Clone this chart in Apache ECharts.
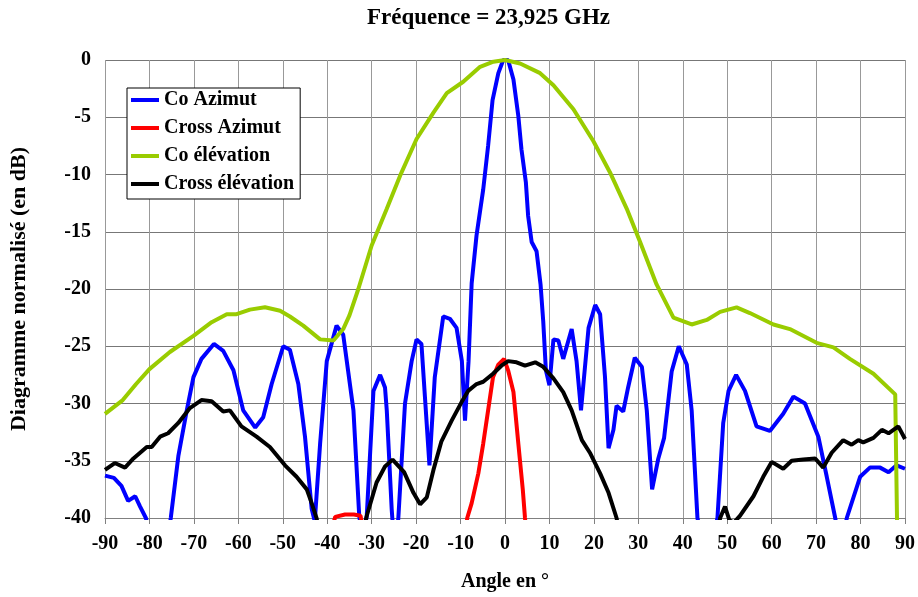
<!DOCTYPE html>
<html>
<head>
<meta charset="utf-8">
<script src="https://cdn.jsdelivr.net/npm/echarts@6/dist/echarts.min.js"></script>
<style>
  html, body { margin: 0; padding: 0; background: #fff; }
  #chart { width: 918px; height: 597px; }
</style>
</head>
<body>
<div id="chart"></div>
<script>
// Diagramme de rayonnement normalisé, 23,925 GHz
const xTicks = [-90, -80, -70, -60, -50, -40, -30, -20, -10, 0, 10, 20, 30, 40, 50, 60, 70, 80, 90]
const yTicks = [0, -5, -10, -15, -20, -25, -30, -35, -40]

// Co Azimut (valeurs sous -40 dB = hors cadre)
const coAzAngle = [-90, -88, -86.3, -84.8, -83.2, -82.1, -80.8, -79, -76.5, -75.2, -73.5, -71.6, -70.1, -68.3, -65.5, -63.4, -61.1, -58.9, -56.2, -54.4, -52.5, -49.9, -48.4, -46.5, -45, -43.5, -42.8, -41.6, -40.1, -37.9, -36.4, -34.1, -32.8, -32, -31.1, -29.6, -28.1, -27, -26.6, -25.5, -24.8, -24, -22.5, -21, -19.9, -18.8, -17, -15.8, -13.9, -12.4, -10.9, -9.7, -9, -8.2, -7.5, -6.4, -4.9, -3.8, -2.8, -1.5, -0.4, 0.7, 1.9, 3, 3.7, 4.7, 5.2, 6, 7.1, 8, 8.6, 9.2, 10, 10.9, 12, 13.1, 15, 16.1, 17.1, 18.8, 20.3, 21.4, 22.5, 23.3, 24.4, 25.1, 26.6, 27.7, 29.2, 30.8, 31.9, 33.1, 34.5, 35.8, 37.5, 39.1, 40.9, 42, 43.3, 45.5, 47.8, 49.1, 50.3, 52, 54, 56.6, 59.6, 62.6, 64.9, 67.5, 70.5, 72.4, 74.3, 75.6, 76.9, 79.9, 82.1, 84.4, 86.3, 88.1, 90]
const coAzDb = [-36.3, -36.5, -37.2, -38.5, -38.1, -39.0, -40, -43, -43, -40, -34.6, -30.6, -27.7, -26.1, -24.8, -25.4, -27.1, -30.6, -32.1, -31.2, -28.3, -25.0, -25.3, -28.3, -32.9, -39.2, -40.3, -33.5, -26.3, -23.2, -24.0, -30.6, -39.8, -42, -39.8, -28.9, -27.5, -28.6, -30.6, -39.2, -43, -40, -30.0, -26.3, -24.4, -24.8, -35.4, -27.7, -22.4, -22.6, -23.4, -26.3, -31.5, -26.3, -19.5, -15.3, -11.3, -7.5, -3.5, -1.15, 0, 0, -1.7, -4.9, -7.8, -10.7, -13.6, -15.9, -16.7, -19.6, -22.8, -27.1, -28.4, -24.4, -24.5, -26.1, -23.5, -26.3, -30.6, -23.4, -21.4, -22.2, -27.7, -33.9, -32.3, -30.2, -30.7, -28.6, -26.0, -26.8, -30.6, -37.5, -34.8, -33.0, -27.2, -25.0, -26.6, -30.6, -40, -44, -40, -31.7, -28.9, -27.5, -28.9, -32.0, -32.4, -30.9, -29.4, -30.0, -32.9, -36.4, -40, -43, -40, -36.4, -35.6, -35.6, -36.0, -35.4, -35.7]

// Cross Azimut
const crossAzAngle = [-39, -38.2, -36, -34, -32.5, -32, -9, -8.5, -7.5, -6, -4.9, -3.8, -2.7, -1.5, -0.2, 0.7, 1.9, 3, 4, 4.5, 5]
const crossAzDb = [-41, -39.9, -39.7, -39.7, -39.8, -41, -42, -40, -38.7, -36.1, -33.5, -30.6, -27.7, -26.6, -26.1, -27.1, -29.0, -33.5, -37.5, -40, -42]

// Co élévation
const coElAngle = [-90, -86, -83, -80, -75.4, -70.1, -66, -62.6, -60.4, -57.4, -54, -50.6, -48.4, -45.4, -41.6, -38.6, -36.4, -35, -33, -30, -26.6, -23.6, -19.9, -16.1, -13.1, -9.4, -5.6, -2.6, 0, 3.4, 7.9, 10.9, 15.4, 19.9, 23.6, 27.4, 30.4, 34.1, 37.9, 42, 45.4, 48.4, 52.1, 55.1, 60.4, 64.1, 70.1, 73.9, 77.6, 82.9, 87.8, 88.2, 88.4]
const coElDb = [-30.9, -29.7, -28.3, -27.0, -25.5, -24.1, -22.9, -22.2, -22.2, -21.8, -21.6, -21.9, -22.4, -23.2, -24.4, -24.5, -23.5, -22.3, -20.0, -16.2, -13.0, -10.1, -6.9, -4.6, -2.9, -1.9, -0.6, -0.15, 0, -0.3, -1.15, -2.2, -4.3, -7.1, -9.8, -13.0, -15.9, -19.6, -22.5, -23.1, -22.7, -22.0, -21.6, -22.1, -23.1, -23.5, -24.7, -25.1, -26.1, -27.4, -29.2, -40, -45]

// Cross élévation
const crossElAngle = [-90, -87.8, -85.5, -83.6, -80.6, -79.5, -77.6, -75.8, -73.5, -70.9, -68.3, -66, -63.4, -61.9, -59.3, -55.9, -52.9, -49.5, -46.9, -44.6, -43.5, -42.4, -41, -33, -31.1, -28.9, -27, -25.3, -22.7, -20.6, -19.1, -17.6, -16.1, -14.3, -12, -9.8, -8.3, -6.4, -4.9, -2.7, -0.8, 0.7, 2.6, 4.5, 6.8, 8.6, 10.9, 13.1, 15, 17.3, 19.1, 21.4, 23.3, 25.1, 27, 47, 48.4, 49.5, 50.5, 51.5, 52.9, 55.9, 58.1, 60, 62.6, 64.5, 67.1, 69.8, 71.6, 73.5, 76.1, 78, 79.5, 80.6, 82.9, 84.8, 86.3, 88.5, 90]
const crossElDb = [-35.8, -35.2, -35.6, -34.8, -33.8, -33.8, -32.9, -32.6, -31.7, -30.4, -29.7, -29.8, -30.7, -30.6, -32.0, -32.9, -33.8, -35.4, -36.4, -37.5, -38.7, -40, -43, -43, -39.8, -36.9, -35.5, -34.9, -36.0, -37.8, -38.8, -38.2, -35.8, -33.3, -31.5, -29.9, -28.9, -28.3, -28.1, -27.4, -26.7, -26.3, -26.4, -26.7, -26.4, -26.8, -27.8, -29.0, -30.6, -33.2, -34.3, -36.1, -37.8, -40, -44, -44, -40, -39.0, -40.2, -40.4, -39.8, -38.1, -36.4, -35.1, -35.7, -35.0, -34.9, -34.8, -35.6, -34.3, -33.2, -33.6, -33.2, -33.4, -33.0, -32.3, -32.6, -32.0, -33.1]

const FONT = 'Liberation Serif'

const zip = (xs, ys) => xs.map((x, i) => [x, ys[i]])

const makeLine = (name, color, xs, ys) => ({
  name,
  type: 'line',
  data: zip(xs, ys),
  color,
  showSymbol: false,
  clip: true,
  lineStyle: { width: 4, color },
  animation: false
})

const chart = echarts.init(document.getElementById('chart'))

chart.setOption({
  backgroundColor: '#fff',
  animation: false,
  title: {
    text: 'Fréquence = 23,925 GHz',
    left: 367,
    top: 7,
    padding: 0,
    textStyle: { fontFamily: FONT, fontSize: 23, fontWeight: 'bold', color: '#000' }
  },
  grid: { left: 105, right: 13, top: 60, bottom: 75, containLabel: false },
  legend: {
    orient: 'vertical',
    left: 127,
    top: 88,
    padding: [2, 6, 5, 4],
    itemGap: 8,
    itemWidth: 28,
    itemHeight: 4,
    icon: 'rect',
    borderColor: '#000',
    borderWidth: 1,
    backgroundColor: '#fff',
    textStyle: { fontFamily: FONT, fontSize: 20, fontWeight: 'bold', color: '#000', lineHeight: 20 },
    data: ['Co Azimut', 'Cross Azimut', 'Co élévation', 'Cross élévation']
  },
  xAxis: {
    type: 'value',
    min: xTicks[0],
    max: xTicks[xTicks.length - 1],
    interval: 10,
    name: 'Angle en °',
    nameLocation: 'middle',
    nameGap: 54,
    nameTextStyle: { fontFamily: FONT, fontSize: 20, fontWeight: 'bold', color: '#000' },
    axisLine: { onZero: false, lineStyle: { color: '#808080', width: 1 } },
    axisTick: { show: true, length: 6, lineStyle: { color: '#808080' } },
    axisLabel: { margin: 16, fontFamily: FONT, fontSize: 20, fontWeight: 'bold', color: '#000' },
    splitLine: { show: true, lineStyle: { color: '#999', width: 1 } }
  },
  yAxis: {
    type: 'value',
    min: yTicks[yTicks.length - 1],
    max: yTicks[0],
    interval: 5,
    axisLine: { show: true, lineStyle: { color: '#808080', width: 1 } },
    axisTick: { show: true, length: 6, lineStyle: { color: '#808080' } },
    axisLabel: { margin: 14, fontFamily: FONT, fontSize: 20, fontWeight: 'bold', color: '#000' },
    splitLine: { show: true, lineStyle: { color: '#777', width: 1 } }
  },
  graphic: [{
    type: 'text',
    x: 19,
    y: 289,
    rotation: Math.PI / 2,
    style: {
      text: 'Diagramme normalisé (en dB)',
      fontFamily: FONT,
      fontSize: 22,
      fontWeight: 'bold',
      fill: '#000',
      align: 'center',
      verticalAlign: 'middle'
    }
  }],
  series: [
    makeLine('Co Azimut', '#0000ff', coAzAngle, coAzDb),
    makeLine('Cross Azimut', '#ff0000', crossAzAngle, crossAzDb),
    makeLine('Co élévation', '#99cc00', coElAngle, coElDb),
    makeLine('Cross élévation', '#000000', crossElAngle, crossElDb)
  ]
})
</script>
</body>
</html>
